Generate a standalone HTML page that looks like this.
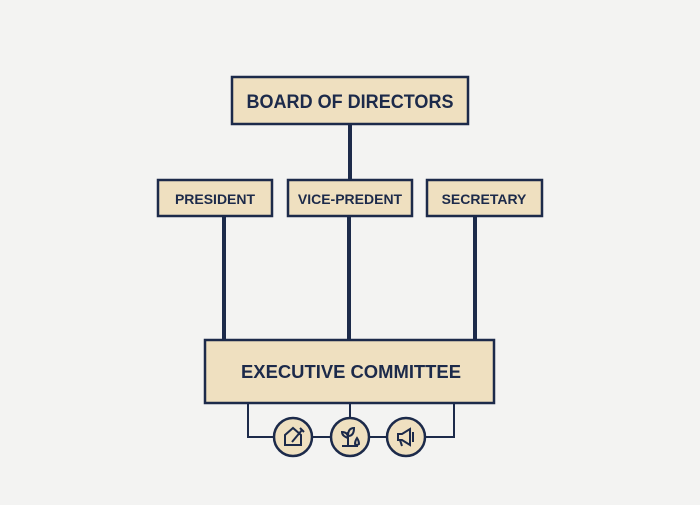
<!DOCTYPE html>
<html><head><style>
body{margin:0;width:700px;height:500px;background:#f3f3f2;overflow:hidden}
</style></head><body>
<svg width="700" height="500" xmlns="http://www.w3.org/2000/svg" font-family="Liberation Sans, sans-serif" font-weight="bold" fill="#1c2a4a">
<g stroke="#1c2a4a" stroke-width="4">
<line x1="350" y1="124" x2="350" y2="180"/>
<line x1="224" y1="216" x2="224" y2="340"/>
<line x1="349" y1="216" x2="349" y2="340"/>
<line x1="475" y1="216" x2="475" y2="340"/>
</g>
<g stroke="#1c2a4a" stroke-width="2" fill="none">
<polyline points="248,403 248,437 454,437 454,403"/>
<line x1="350" y1="403" x2="350" y2="420"/>
</g>
<g fill="#efe0c0" stroke="#1c2a4a" stroke-width="2.5">
<rect x="232" y="77" width="236" height="47"/>
<rect x="158" y="180" width="114" height="36"/>
<rect x="288" y="180" width="124" height="36"/>
<rect x="427" y="180" width="115" height="36"/>
<rect x="205" y="340" width="289" height="63"/>
<circle cx="293" cy="437" r="19"/>
<circle cx="350" cy="437" r="19"/>
<circle cx="406" cy="437" r="19"/>
</g>
<g text-anchor="middle" stroke="none">
<text x="350" y="108" font-size="19" textLength="207" lengthAdjust="spacingAndGlyphs">BOARD OF DIRECTORS</text>
<text x="215" y="204" font-size="14">PRESIDENT</text>
<text x="350" y="204" font-size="14">VICE-PREDENT</text>
<text x="484" y="204" font-size="14">SECRETARY</text>
<text x="351" y="378" font-size="18" textLength="220" lengthAdjust="spacingAndGlyphs">EXECUTIVE COMMITTEE</text>
</g>
<g stroke="#1c2a4a" stroke-width="2" fill="none">
<path d="M285 445 V435 L293 428 L301 435 V445 Z"/>
<path d="M292 442 L302 430 M300 428 l4 4"/>
<path d="M342 446 H358 M348 446 V432 M348 438 q-6 -2 -6 -6 q6 0 6 6 M348 436 q0 -8 6 -8 q0 8 -6 8"/>
<path d="M355 444 a3 3 0 0 0 4 0 q0 -3 -2 -6 q-2 3 -2 6z"/>
<path d="M398 434 h4 l8 -5 v16 l-8 -5 h-4 z M400 440 l2 6 M413 432 v10"/>
</g>
</svg>
</body></html>
